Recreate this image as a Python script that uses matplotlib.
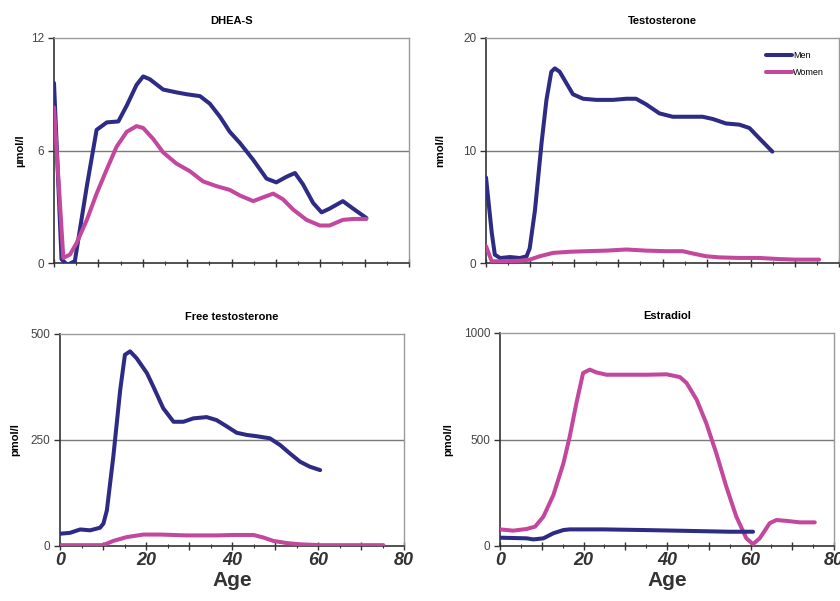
import matplotlib.pyplot as plt
from matplotlib.ticker import MultipleLocator, FuncFormatter

plt.rcParams['font.family'] = ['Liberation Sans', 'DejaVu Sans']

men_color = '#2d2b84'
women_color = '#c4479e'

# DHEA-S (umol/l)
dhea_men_age = [0, 1.7, 3, 4.7, 7.4, 9.6, 11.9, 14.5, 16.4, 18.6, 20.1, 21.6, 24.6, 27.6, 29.9,
                32.9, 35.1, 37.4, 39.6, 41.9, 44.9, 47.9, 50.1, 52.4, 54.3, 56.1, 58.4, 60.3,
                62.1, 65.1, 67.4, 70.4]
dhea_men = [9.6, 0.2, -0.1, 0.1, 4.1, 7.1, 7.5, 7.55, 8.4, 9.5, 9.95, 9.8, 9.25, 9.1, 9.0,
            8.9, 8.5, 7.8, 7.0, 6.4, 5.5, 4.5, 4.3, 4.6, 4.8, 4.2, 3.2, 2.7,
            2.9, 3.3, 2.9, 2.4]
dhea_women_age = [0, 2.1, 3.6, 5.1, 7.4, 9.6, 11.9, 14.1, 16.4, 18.6, 20.1, 22.4, 24.6, 27.6,
                  30.6, 33.6, 36.6, 39.6, 41.9, 44.9, 47.1, 49.4, 51.6, 53.9, 56.9, 59.9,
                  62.1, 65.1, 67.4, 70.4]
dhea_women = [8.3, 0.27, 0.45, 1.07, 2.3, 3.7, 5.0, 6.2, 7.0, 7.3, 7.2, 6.6, 5.9, 5.3,
              4.9, 4.35, 4.1, 3.9, 3.6, 3.3, 3.5, 3.7, 3.4, 2.85, 2.3, 2.0,
              2.0, 2.3, 2.35, 2.35]

# Testosterone (nmol/l)
testo_men_age = [0, 1.3, 2.0, 3.2, 5.4, 7.7, 9.2, 9.9, 11.1, 12.6, 13.7, 14.8, 15.6, 16.7,
                 18.2, 19.7, 22.0, 25.0, 28.8, 31.8, 34.0, 36.3, 39.3, 42.3, 45.4, 49.1,
                 51.4, 54.4, 57.4, 59.7, 61.9, 64.9]
testo_men = [7.6, 2.7, 0.74, 0.44, 0.53, 0.44, 0.6, 1.3, 4.7, 10.7, 14.5, 17.0, 17.3, 17.0,
             16.0, 15.0, 14.6, 14.5, 14.5, 14.6, 14.6, 14.1, 13.3, 13.0, 13.0, 13.0,
             12.8, 12.4, 12.3, 12.0, 11.1, 9.9]
testo_women_age = [0, 1.3, 3.2, 7.7, 9.9, 12.2, 15.2, 19.0, 22.8, 27.3, 31.8, 36.3, 40.8,
                   44.6, 46.8, 49.9, 52.9, 57.4, 61.9, 66.4, 70.2, 75.5]
testo_women = [1.5, 0.15, 0.15, 0.2, 0.3, 0.6, 0.9, 1.0, 1.05, 1.1, 1.2, 1.1, 1.05,
               1.05, 0.85, 0.6, 0.5, 0.45, 0.45, 0.35, 0.3, 0.3]

# Free testosterone (pmol/l)
free_men_age = [0, 2.3, 4.7, 7.0, 9.3, 10.1, 10.9, 12.4, 14.0, 15.1, 16.3, 17.8, 20.2, 21.7,
                24.0, 26.4, 28.7, 31.0, 34.1, 36.4, 38.8, 41.1, 43.4, 45.7, 48.8, 51.2,
                53.5, 55.8, 58.1, 60.5]
free_men = [29, 31, 39, 37, 43, 53, 84, 211, 368, 451, 459, 443, 408, 376,
            325, 293, 293, 301, 304, 297, 282, 267, 262, 259, 254, 238,
            218, 199, 187, 179]
free_women_age = [0, 10, 12.4, 15.5, 19.4, 23.3, 29.5, 36.4, 40.3, 45.0, 47.3, 49.6, 52.7,
                  55.8, 60.5, 75.2]
free_women = [2, 2, 12, 21, 27, 27, 25, 25, 26, 26, 20, 12, 7, 4, 2, 2]

# Estradiol (pmol/l)
estr_men_age = [0, 6.4, 8.0, 10.4, 12.8, 15.2, 16.7, 24.7, 34.3, 42.3, 55.0, 60.6]
estr_men = [39, 36, 31, 36, 60, 75, 78, 78, 75, 72, 67, 67]
estr_women_age = [0, 3.2, 6.4, 8.4, 10.4, 12.8, 15.2, 16.7, 18.3, 19.9, 21.5, 23.1, 25.5,
                  30.3, 35.1, 39.9, 43.1, 44.7, 47.1, 49.4, 51.8, 54.2, 56.6, 59.0, 60.6,
                  62.2, 64.6, 66.2, 68.6, 71.8, 75.4]
estr_women = [78, 72, 80, 91, 138, 240, 389, 514, 671, 812, 828, 815, 804,
              804, 804, 806, 793, 765, 687, 577, 436, 279, 138, 36, 9,
              36, 107, 122, 118, 111, 111]

W, H = 840, 601
fig = plt.figure(figsize=(W / 100, H / 100), dpi=100)


def make_axes(left, right, top, bottom):
    return fig.add_axes([left / W, 1 - bottom / H, (right - left) / W, (bottom - top) / H])


# axes, title, unit, ymax, data..., bottom row, unit label x (pixels from axes left)
panels = [
    (make_axes(54, 409, 38, 263), 'DHEA-S', 'µmol/l', 12,
     dhea_men_age, dhea_men, dhea_women_age, dhea_women, False, -29),
    (make_axes(486, 839, 38, 263), 'Testosterone', 'nmol/l', 20,
     testo_men_age, testo_men, testo_women_age, testo_women, False, -41),
    (make_axes(60, 404, 334, 546), 'Free testosterone', 'pmol/l', 500,
     free_men_age, free_men, free_women_age, free_women, True, -40),
    (make_axes(500, 834, 333, 546), 'Estradiol', 'pmol/l', 1000,
     estr_men_age, estr_men, estr_women_age, estr_women, True, -47),
]

for ax, title, unit, ymax, mx, my, wx, wy, bottom_row, label_dx in panels:
    ax.axhline(ymax / 2, color='#7a7a7a', lw=1.0, zorder=1)
    if title == 'Estradiol':
        ax.plot(wx, wy, color=women_color, lw=2.9, solid_capstyle='round', label='Women', zorder=3)
        ax.plot(mx, my, color=men_color, lw=2.9, solid_capstyle='round', label='Men', zorder=3)
    else:
        ax.plot(mx, my, color=men_color, lw=2.9, solid_capstyle='round', label='Men', zorder=3)
        ax.plot(wx, wy, color=women_color, lw=2.9, solid_capstyle='round', label='Women', zorder=3)
    ax.set_xlim(0, 80)
    ax.set_ylim(0, ymax)
    ax.set_yticks([0, ymax / 2, ymax])
    ax.set_yticklabels(['0', f'{ymax // 2}', f'{ymax}'])
    ax.xaxis.set_major_locator(MultipleLocator(10))
    ax.xaxis.set_minor_locator(MultipleLocator(5))
    ax.tick_params(axis='x', which='major', direction='inout', length=6, width=1, color='#333333')
    ax.tick_params(axis='x', which='minor', direction='inout', length=3.5, width=0.8, color='#333333')
    ax.tick_params(axis='y', direction='out', length=4, width=1, color='#333333',
                   labelsize=8.5, labelcolor='#444444', pad=3)
    for s in ['top', 'right']:
        ax.spines[s].set_color('#9a9a9a')
        ax.spines[s].set_linewidth(1.0)
    for s in ['left', 'bottom']:
        ax.spines[s].set_color('#333333')
        ax.spines[s].set_linewidth(1.2)
    ax.set_title(title, fontsize=8, fontweight='bold', pad=10)
    ax.set_ylabel(unit, fontsize=8, fontweight='bold')
    ax_w = ax.get_position().width * W
    ax.yaxis.set_label_coords(label_dx / ax_w, 0.5)
    if bottom_row:
        ax.xaxis.set_major_formatter(FuncFormatter(lambda v, p: f'{int(v)}' if v % 20 == 0 else ''))
        ax.tick_params(axis='x', which='major', pad=1, labelsize=13, labelcolor='#333333')
        for lab in ax.get_xticklabels():
            lab.set_fontstyle('italic')
            lab.set_fontweight('bold')
        ax.set_xlabel('Age', fontsize=15, fontweight='bold', color='#333333', labelpad=2)
    else:
        ax.set_xticklabels([])

ax_t = panels[1][0]
leg = ax_t.legend(loc='upper right', bbox_to_anchor=(0.975, 0.97), fontsize=6.5, frameon=False,
                  handlelength=2.9, handletextpad=0.1, labelspacing=0.85, borderaxespad=0.3)

fig.savefig('out.png', dpi=100)
